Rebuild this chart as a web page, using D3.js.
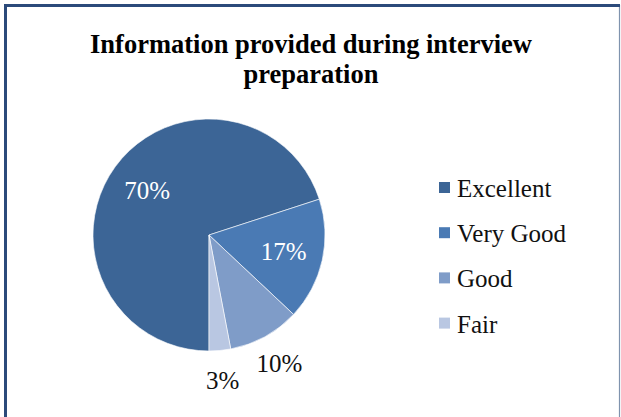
<!DOCTYPE html>
<html>
<head>
<meta charset="utf-8">
<script src="https://cdn.jsdelivr.net/npm/d3@7"></script>
<style>
  body { margin: 0; background: #fff; }
  svg { display: block; font-family: "Liberation Serif", "Times New Roman", serif; }
</style>
</head>
<body>
<div id="chart"></div>
<script>
// data
const kategorije = ["Excellent", "Very Good", "Good", "Fair"];
const vrijednosti = [70, 17, 10, 3];
const boje = ["#3c6596", "#4a7ab4", "#7f9cc8", "#b9c7e2"];
const naslov = ["Information provided during interview", "preparation"];

const sirina = 621, visina = 417;
const centar = { x: 209, y: 235 };
const radijus = 116;

const okvir = d3.select("#chart").append("svg")
  .attr("width", sirina)
  .attr("height", visina);

// okvir oko grafa
okvir.append("rect")
  .attr("x", 5.5).attr("y", 5.5)
  .attr("width", 614).attr("height", 430)
  .attr("fill", "none")
  .attr("stroke", "#7f93ae")
  .attr("stroke-width", 1.2);
okvir.append("path")
  .attr("d", "M5.5,430V5.5H620")
  .attr("fill", "none")
  .attr("stroke", "#2b4a7a")
  .attr("stroke-width", 3);

// naslov
okvir.append("text")
  .attr("x", 311)
  .attr("y", 53)
  .attr("text-anchor", "middle")
  .style("font-size", "26.5px")
  .style("font-weight", "bold")
  .selectAll("tspan")
  .data(naslov)
  .enter().append("tspan")
  .attr("x", 311)
  .attr("dy", (d, i) => i === 0 ? 0 : 30)
  .text(d => d);

const boja = d3.scaleOrdinal().domain(kategorije).range(boje);

const pie = d3.pie()
  .sort(null)
  .startAngle(Math.PI)
  .endAngle(3 * Math.PI)
  .value(d => d.v);

const podaci = kategorije.map((k, i) => ({ k: k, v: vrijednosti[i] }));
const lukovi = pie(podaci);
const ukupno = d3.sum(vrijednosti);

const arc = d3.arc().innerRadius(0).outerRadius(radijus);
const unutra = d3.arc().innerRadius(radijus * 0.66).outerRadius(radijus * 0.66);
const vani = d3.arc().innerRadius(radijus * 1.26).outerRadius(radijus * 1.26);

const g = okvir.append("g")
  .attr("transform", `translate(${centar.x},${centar.y})`);

g.selectAll("path.kriska")
  .data(lukovi)
  .enter().append("path")
  .attr("class", "kriska")
  .attr("d", arc)
  .attr("fill", d => boja(d.data.k))
  .attr("stroke", "#fff")
  .attr("stroke-width", 0.6);

g.selectAll("text.oznaka")
  .data(lukovi)
  .enter().append("text")
  .attr("class", "oznaka")
  .attr("transform", d => {
    const c = (d.data.v / ukupno > 0.15 ? unutra : vani).centroid(d);
    return `translate(${c[0]},${c[1]})`;
  })
  .attr("text-anchor", "middle")
  .attr("dy", "0.35em")
  .style("font-size", "25px")
  .attr("fill", d => d.data.v / ukupno > 0.15 ? "#fff" : "#111")
  .text(d => d3.format(".0%")(d.data.v / ukupno));

// legenda
const legenda = okvir.append("g")
  .attr("transform", "translate(439,188)");

const red = legenda.selectAll("g")
  .data(kategorije)
  .enter().append("g")
  .attr("transform", (d, i) => `translate(0,${i * 45.2})`);

red.append("rect")
  .attr("x", 0).attr("y", -6)
  .attr("width", 11).attr("height", 11)
  .attr("fill", d => boja(d));

red.append("text")
  .attr("x", 18)
  .attr("y", 9)
  .style("font-size", "25px")
  .attr("fill", "#111")
  .text(d => d);
</script>
</body>
</html>
